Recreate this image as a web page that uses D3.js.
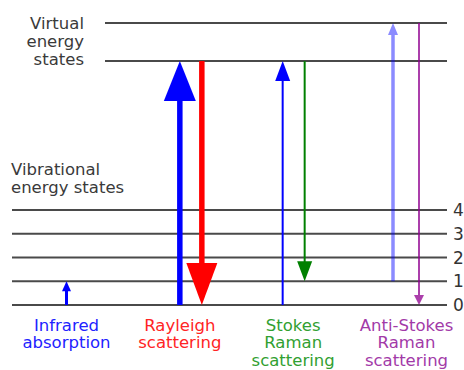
<!DOCTYPE html>
<html><head><meta charset="utf-8">
<script src="https://cdn.jsdelivr.net/npm/d3@7"></script>
<style>body{margin:0;background:#fff}svg{display:block}text{font-family:"DejaVu Sans",sans-serif}</style>
</head><body>
<script>
// ---- data ----
const vibLevels = [0, 1, 2, 3, 4];
const vibLabels = ["0", "1", "2", "3", "4"];
const virtualLevels = [10.27, 11.87];
const processes = ["Infrared absorption", "Rayleigh scattering", "Stokes Raman scattering", "Anti-Stokes Raman scattering"];
const processLabelLines = [["Infrared", "absorption"], ["Rayleigh", "scattering"], ["Stokes", "Raman", "scattering"], ["Anti-Stokes", "Raman", "scattering"]];
const transitionProcess = [0, 1, 1, 2, 2, 3, 3];
const transitionFrom   = [0, 0, 10.27, 0, 10.27, 1, 11.87];
const transitionTo     = [1, 10.27, 0, 10.27, 1, 11.87, 0];

// ---- styles (not data) ----
const W = 464, H = 370;
const FS = 16.5, LH = 18;
const procColors = ["#2222ff", "#ff2424", "#31a031", "#a23aa8"];
const arrowStyle = [
  {dx: 0,    color: "#0000ff", sw: 3,   hw: 9,  hh: 10, op: 1},
  {dx: 0,    color: "#0000ff", sw: 5.5, hw: 32, hh: 40, op: 1},
  {dx: 22,   color: "#ff0000", sw: 5.5, hw: 31, hh: 42, op: 1},
  {dx: -10.5,color: "#0000ff", sw: 2,   hw: 15, hh: 20, op: 1},
  {dx: 11.5, color: "#008000", sw: 2,   hw: 15, hh: 20, op: 1},
  {dx: -13.5,color: "#0000ff", sw: 3.5, hw: 10, hh: 12, op: 0.45},
  {dx: 12.5, color: "#900090", sw: 2,   hw: 10, hh: 10, op: 0.75}
];

const y = d3.scaleLinear().domain([0, 12]).range([305, 20]);
const x = d3.scalePoint().domain(processes).range([66.5, 406.5]);

const svg = d3.select("body").append("svg").attr("width", W).attr("height", H);

// level lines
svg.append("g").selectAll("line").data(vibLevels).join("line")
  .attr("x1", 12).attr("x2", 447)
  .attr("y1", d => y(d)).attr("y2", d => y(d))
  .attr("stroke", "#4a4a4a").attr("stroke-width", 2);
svg.append("g").selectAll("line").data(virtualLevels).join("line")
  .attr("x1", 105).attr("x2", 447)
  .attr("y1", d => y(d)).attr("y2", d => y(d))
  .attr("stroke", "#4a4a4a").attr("stroke-width", 2);

// level numbers
svg.append("g").selectAll("text").data(vibLevels).join("text")
  .attr("x", 453).attr("y", d => y(d)).attr("dy", "0.36em")
  .attr("font-size", 17).attr("fill", "#333")
  .text((d, i) => vibLabels[i]);

// left titles
const vt = svg.append("text").attr("text-anchor", "end").attr("font-size", FS).attr("fill", "#3a3a3a");
["Virtual", "energy", "states"].forEach((t, i) => vt.append("tspan").attr("x", 84).attr("y", 29 + i * LH).text(t));
const vb = svg.append("text").attr("font-size", FS).attr("fill", "#3a3a3a");
["Vibrational", "energy states"].forEach((t, i) => vb.append("tspan").attr("x", 11).attr("y", 175 + i * LH).text(t));

// arrows
const arrows = svg.append("g");
transitionProcess.forEach((p, i) => {
  const s = arrowStyle[i];
  const ax = x(processes[p]) + s.dx;
  const y0 = y(transitionFrom[i]), y1 = y(transitionTo[i]);
  const dir = y1 < y0 ? -1 : 1; // -1 up
  const base = y1 - dir * s.hh;
  const g = arrows.append("g").attr("opacity", s.op);
  g.append("line").attr("x1", ax).attr("x2", ax).attr("y1", y0).attr("y2", base + dir * 1)
    .attr("stroke", s.color).attr("stroke-width", s.sw);
  g.append("path")
    .attr("d", `M${ax},${y1} L${ax - s.hw / 2},${base} L${ax + s.hw / 2},${base} Z`)
    .attr("fill", s.color);
});

// bottom labels
processLabelLines.forEach((lines, i) => {
  const t = svg.append("text").attr("text-anchor", "middle").attr("font-size", FS).attr("fill", procColors[i]);
  lines.forEach((l, j) => t.append("tspan").attr("x", x(processes[i])).attr("y", 330.5 + j * 17.5).text(l));
});
</script>
</body></html>
